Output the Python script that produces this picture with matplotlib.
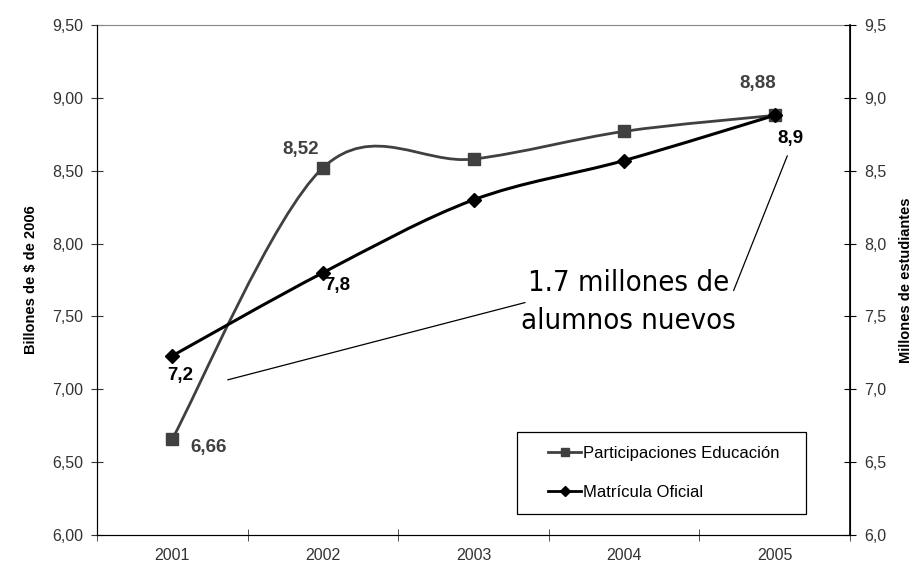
import numpy as np
import matplotlib.pyplot as plt
from matplotlib.path import Path
from matplotlib.patches import PathPatch, Rectangle
from matplotlib.lines import Line2D
from matplotlib.ticker import FuncFormatter

plt.rcParams['font.family'] = ['Liberation Sans', 'DejaVu Sans']

# datos
anios = ['2001', '2002', '2003', '2004', '2005']
participaciones = [6.66, 8.52, 8.58, 8.77, 8.88]      # billones de $ de 2006
matricula = [7.23, 7.80, 8.30, 8.57, 8.88]            # millones de estudiantes
etiquetas_part = ['6,66', '8,52', None, None, '8,88']
etiquetas_mat = ['7,2', '7,8', None, None, '8,9']

gris = '#404040'


def curva_suave(xs, ys):
    # linea suavizada tipo Excel (Catmull-Rom -> Bezier)
    p = np.column_stack([xs, ys]).astype(float)
    n = len(p)
    verts = [p[0]]
    codes = [Path.MOVETO]
    for i in range(n - 1):
        p0 = p[max(i - 1, 0)]
        p1 = p[i]
        p2 = p[i + 1]
        p3 = p[min(i + 2, n - 1)]
        verts += [p1 + (p2 - p0) / 6, p2 - (p3 - p1) / 6, p2]
        codes += [Path.CURVE4] * 3
    return Path(verts, codes)


x = np.arange(len(anios))

fig = plt.figure(figsize=(9.18, 5.64), dpi=100)
ax = fig.add_axes([0.1057, 0.0514, 0.8203, 0.9043])
ax2 = ax.twinx()

ax.add_patch(PathPatch(curva_suave(x, participaciones), fill=False, ec=gris, lw=2.0, zorder=3))
ax.plot(x, participaciones, ls='none', marker='s', ms=8, color=gris, zorder=4)

ax2.add_patch(PathPatch(curva_suave(x, matricula), fill=False, ec='black', lw=2.2, zorder=3))
ax2.plot(x, matricula, ls='none', marker='D', ms=7.5, color='black', zorder=4)

# etiquetas de datos
offs_part = [(13, -6, 'left'), (-3, 13, 'right'), None, None, (-12, 23, 'center')]
for xi, yi, t, o in zip(x, participaciones, etiquetas_part, offs_part):
    if t:
        ax.annotate(t, (xi, yi), xytext=(o[0], o[1]), textcoords='offset points',
                    ha=o[2], va='center', fontsize=13.5, fontweight='bold', color=gris)
offs_mat = [(6, -14, 'center'), (10, -9, 'center'), None, None, (11, -17, 'center')]
for xi, yi, t, o in zip(x, matricula, etiquetas_mat, offs_mat):
    if t:
        ax2.annotate(t, (xi, yi), xytext=(o[0], o[1]), textcoords='offset points',
                     ha=o[2], va='center', fontsize=13.5, fontweight='bold', color='black')

# ejes
ax.set_xlim(-0.5, 4.5)
ax.set_ylim(6.0, 9.5)
ax2.set_ylim(6.0, 9.5)
ax.set_yticks(np.arange(6.0, 9.51, 0.5))
ax2.set_yticks(np.arange(6.0, 9.51, 0.5))
ax.yaxis.set_major_formatter(FuncFormatter(lambda v, p: f'{v:.2f}'.replace('.', ',')))
ax2.yaxis.set_major_formatter(FuncFormatter(lambda v, p: f'{v:.1f}'.replace('.', ',')))
ax.set_xticks(x)
ax.set_xticklabels(anios)
ax.set_xticks(np.arange(-0.5, 4.6, 1.0), minor=True)
ax.tick_params(axis='x', which='major', length=0, pad=9, labelsize=11.5, labelcolor='#333333')
ax.tick_params(axis='x', which='minor', direction='inout', length=8, color='#333333')
ax.tick_params(axis='y', direction='inout', length=8, pad=6, labelsize=11.5,
               labelcolor='#333333', color='#333333')
ax2.tick_params(axis='y', direction='inout', length=8, pad=6, labelsize=11.5,
                labelcolor='#333333', color='black')

for s in ['left', 'bottom']:
    ax.spines[s].set_color('#333333')
ax.spines['top'].set_color('#888888')
ax.spines['top'].set_linewidth(0.8)
ax2.spines['top'].set_visible(False)
ax2.spines['right'].set_color('black')
ax2.spines['right'].set_linewidth(1.2)

ax.set_ylabel('Billones de $ de 2006', fontsize=10.5, fontweight='bold', labelpad=10)
ax2.set_ylabel('Millones de estudiantes', fontsize=10.5, fontweight='bold', labelpad=9)

# nota
ax2.annotate('', xy=(0.35, 7.06), xytext=(2.36, 7.60),
             arrowprops=dict(arrowstyle='-', color='black', lw=0.9))
ax2.annotate('', xy=(4.09, 8.62), xytext=(3.72, 7.66),
             arrowprops=dict(arrowstyle='-', color='black', lw=0.9))
ax2.text(3.03, 7.60, '1.7 millones de\nalumnos nuevos', ha='center', va='center',
         fontsize=21, linespacing=1.45, family='DejaVu Sans', fontstretch='condensed')

# leyenda
ax2.add_patch(Rectangle((0.558, 0.041), 0.384, 0.161, transform=ax2.transAxes,
                        fc='white', ec='black', lw=0.9, zorder=6))
handles = [Line2D([], [], color=gris, lw=2.0, marker='s', ms=6),
           Line2D([], [], color='black', lw=2.0, marker='D', ms=5)]
leg = ax2.legend(handles, ['Participaciones Educación', 'Matrícula Oficial'],
                 loc='center left', bbox_to_anchor=(0.599, 0.1216), frameon=False,
                 borderpad=0, borderaxespad=0, handlelength=2.0, handletextpad=0.1,
                 labelspacing=1.4, fontsize=12)
leg.set_zorder(7)

fig.savefig('out.png', dpi=100)
